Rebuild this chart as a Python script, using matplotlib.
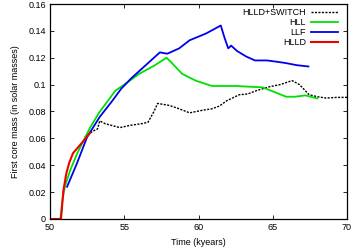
import matplotlib
matplotlib.use("Agg")
import matplotlib.pyplot as plt

plt.rcParams['font.family'] = ['Liberation Sans', 'DejaVu Sans']

# HLLD+SWITCH (black dotted)
sw_t = [52.35, 52.7, 53.0, 53.2, 53.35, 53.7, 54.2, 54.7, 55.4, 56.2, 56.6, 57.0, 57.25, 58.05, 58.7, 59.4,
        60.3, 60.9, 61.4, 61.9, 62.75, 63.3, 63.9, 64.8, 65.5, 66.3, 66.8, 67.45, 68.0, 68.6, 69.3, 70.0]
sw_m = [0.061, 0.064, 0.066, 0.067, 0.073, 0.071, 0.0695, 0.068, 0.0697, 0.071, 0.072, 0.080, 0.086, 0.0845, 0.082, 0.079,
        0.081, 0.082, 0.084, 0.088, 0.0925, 0.093, 0.0955, 0.0985, 0.100, 0.103, 0.100, 0.0925, 0.091, 0.090, 0.0905, 0.0905]

# HLL (green)
hll_t = [50.7, 50.85, 51.0, 51.35, 51.8, 52.2, 52.7, 53.3, 53.9, 54.4, 55.0, 56.0, 57.0, 57.85, 58.3, 58.9,
         59.8, 60.9, 61.7, 62.5, 63.3, 64.3, 65.0, 65.9, 66.5, 67.2, 68.0]
hll_m = [0.0, 0.015, 0.024, 0.036, 0.048, 0.057, 0.068, 0.079, 0.088, 0.0955, 0.100, 0.108, 0.114, 0.120, 0.115, 0.108,
         0.103, 0.099, 0.099, 0.099, 0.0985, 0.098, 0.095, 0.091, 0.091, 0.092, 0.0897]

# LLF (blue)
llf_t = [51.15, 51.8, 52.5, 53.35, 54.2, 54.8, 55.5, 56.5, 57.4, 57.9, 58.7, 59.4, 60.5, 61.5, 61.75, 62.0, 62.2,
         62.6, 63.2, 63.8, 64.6, 65.3, 65.9, 66.6, 67.4]
llf_m = [0.024, 0.041, 0.061, 0.076, 0.088, 0.097, 0.105, 0.115, 0.124, 0.123, 0.127, 0.133, 0.138, 0.144, 0.135, 0.127, 0.129,
         0.125, 0.121, 0.118, 0.118, 0.117, 0.116, 0.1145, 0.1135]

# HLLD (red)
hlld_t = [50.0, 50.74, 50.9, 51.1, 51.3, 51.55, 52.1, 52.7]
hlld_m = [0.0, 0.0, 0.021, 0.034, 0.042, 0.049, 0.056, 0.064]

fig = plt.figure(figsize=(3.54, 2.49), dpi=100)
ax = fig.add_axes([50/354, 1 - 219/249, (347-50)/354, (219-4)/249])

ax.plot(sw_t, sw_m, color='black', lw=1.0, ls=(0, (1.5, 1.0)), label='HLLD+SWITCH')
ax.plot(hll_t, hll_m, color='#00e000', lw=1.3, label='HLL')
ax.plot(llf_t, llf_m, color='#0000ee', lw=1.3, label='LLF')
ax.plot(hlld_t, hlld_m, color='#ee0000', lw=1.5, label='HLLD')

ax.set_xlim(50, 70)
ax.set_ylim(0, 0.16)
ax.set_xticks([50, 55, 60, 65, 70])
ax.set_xticklabels(['50', '55', '60', '65', '70'])
ax.set_yticks([0, 0.02, 0.04, 0.06, 0.08, 0.1, 0.12, 0.14, 0.16])
ax.set_yticklabels(['0', '0.02', '0.04', '0.06', '0.08', '0.1', '0.12', '0.14', '0.16'])
ax.tick_params(direction='in', top=True, right=True, length=3, width=0.6, labelsize=6.5, pad=3)
for s in ax.spines.values():
    s.set_linewidth(0.9)

ax.set_xlabel('Time (kyears)', fontsize=6.5, labelpad=4)
ax.set_ylabel('First core mass (in solar masses)', fontsize=6.5, labelpad=6)

leg = ax.legend(loc='upper right', bbox_to_anchor=((338 - 50) / 297, 1 - 4 / 215), fontsize=6.5,
                frameon=False, markerfirst=False, borderaxespad=0, borderpad=0,
                handlelength=3.0, handletextpad=0.55, labelspacing=0.12)
for t in leg.get_texts():
    t.set_ha('right')

fig.savefig('out.png', dpi=100)
